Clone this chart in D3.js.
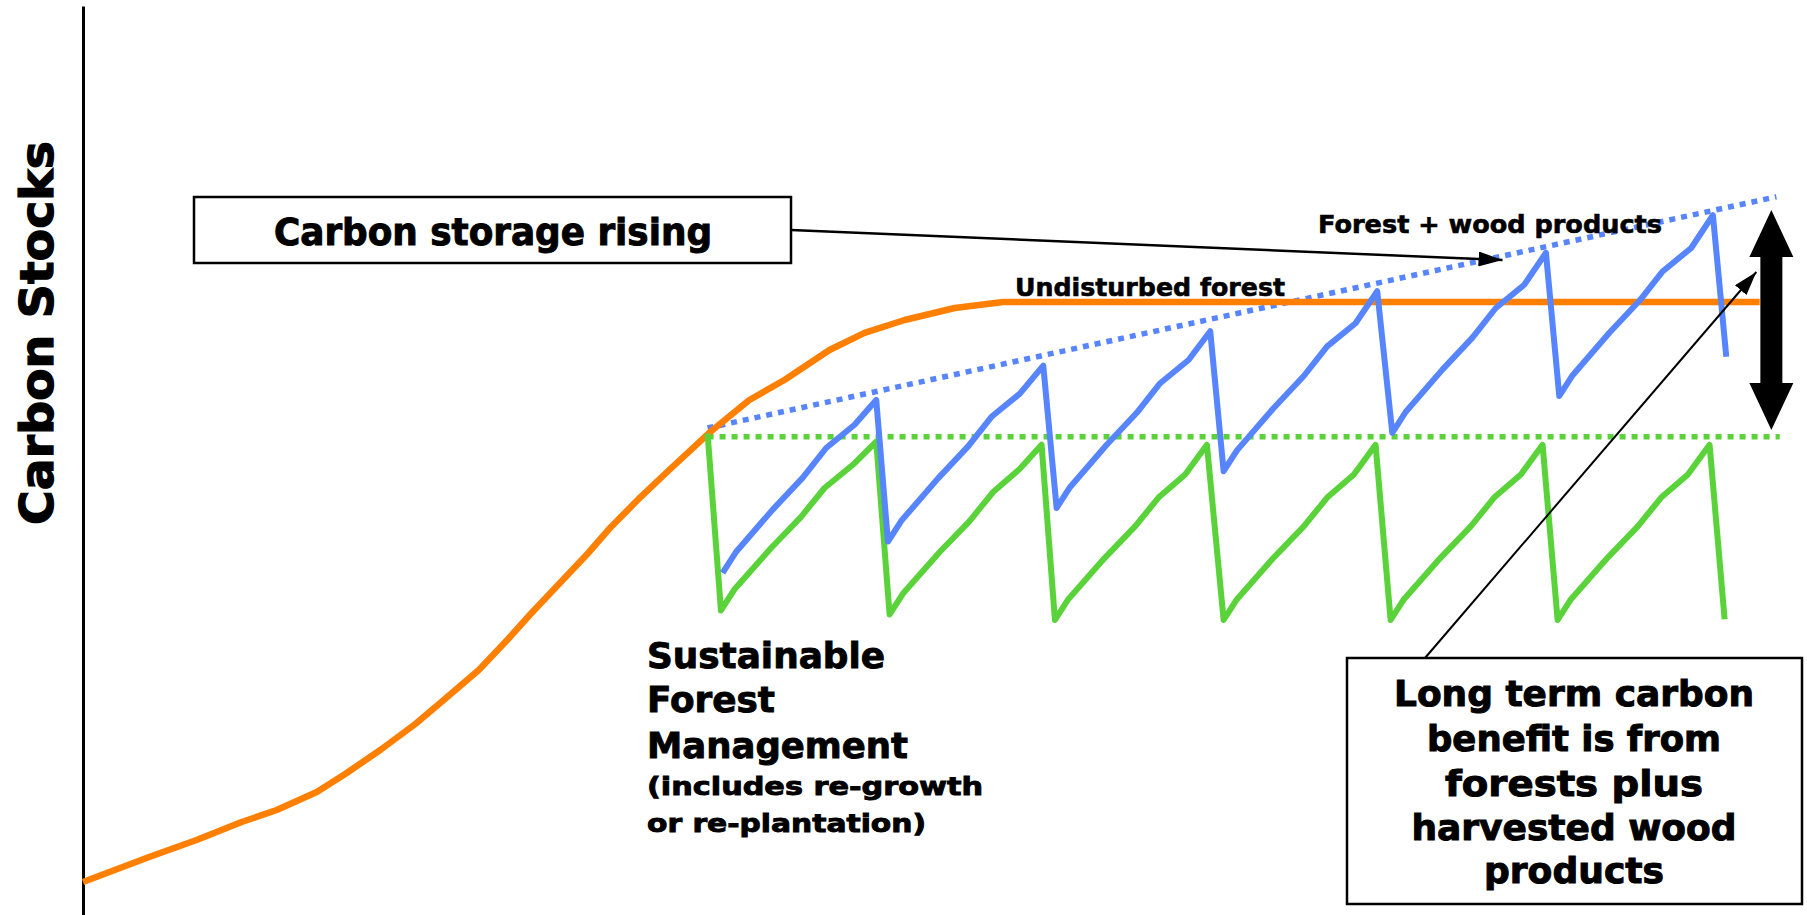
<!DOCTYPE html>
<html>
<head>
<meta charset="utf-8">
<script src="https://cdn.jsdelivr.net/npm/d3@7"></script>
<style>
  body { margin: 0; background: #fff; }
  text { font-family: "DejaVu Sans", Arial, sans-serif; font-weight: bold; fill: #000; }
</style>
</head>
<body>
<svg id="chart"></svg>
<script>
// time in years, carbon stock in arbitrary units
const undisturbedYears = [0, 1.9, 4.0, 6.8, 9.5, 11.6, 14.0, 15.7, 17.8, 19.9, 21.6, 23.7, 25.4, 26.8, 28.5, 30.2, 31.6, 33.4, 35.1, 37.5, 39.9, 42.0, 44.7, 46.8, 49.2, 52.2, 55.1, 100.4];
const undisturbedCarbon = [2.25, 3.75, 5.4, 7.5, 9.75, 11.25, 13.5, 15.75, 18.75, 22.0, 25.0, 28.75, 32.5, 35.75, 39.5, 43.25, 46.6, 50.4, 53.75, 58.4, 62.5, 65.0, 68.75, 70.9, 72.5, 74.0, 74.75, 74.75];

const forestYears = [37.4, 38.2, 39.0, 41.2, 43.0, 44.4, 46.1, 47.5,
  48.3, 49.1, 51.3, 53.1, 54.5, 56.1, 57.4,
  58.2, 59.0, 61.2, 63.0, 64.4, 66.0, 67.3,
  68.3, 69.1, 71.3, 73.1, 74.5, 76.1, 77.4,
  78.3, 79.1, 81.3, 83.1, 84.5, 86.1, 87.4,
  88.3, 89.1, 91.3, 93.1, 94.5, 96.1, 97.4, 98.3];
const forestCarbon = [58.3, 36.2, 38.8, 44.0, 47.9, 51.5, 54.4, 57.3,
  35.7, 38.3, 43.5, 47.4, 51.0, 53.9, 56.9,
  35.0, 37.6, 42.8, 46.7, 50.3, 53.2, 56.9,
  35.0, 37.6, 42.8, 46.7, 50.3, 53.2, 56.9,
  35.0, 37.6, 42.8, 46.7, 50.3, 53.2, 56.9,
  35.0, 37.6, 42.8, 46.7, 50.3, 53.2, 56.9, 35.1];

const productsYears = [38.3, 39.1, 41.3, 43.1, 44.5, 46.2, 47.5,
  48.2, 49.0, 51.2, 53.0, 54.4, 56.1, 57.5,
  58.3, 59.1, 61.3, 63.1, 64.5, 66.2, 67.5,
  68.3, 69.1, 71.3, 73.1, 74.5, 76.2, 77.5,
  78.4, 79.2, 81.4, 83.2, 84.6, 86.3, 87.6,
  88.4, 89.2, 91.4, 93.2, 94.6, 96.3, 97.6, 98.4];
const productsCarbon = [40.9, 43.5, 48.8, 52.8, 56.5, 59.4, 62.5,
  44.8, 47.4, 52.7, 56.7, 60.4, 63.3, 66.8,
  49.0, 51.6, 56.9, 60.9, 64.6, 67.5, 71.1,
  53.6, 56.2, 61.5, 65.5, 69.2, 72.1, 76.1,
  58.4, 61.0, 66.3, 70.3, 74.0, 76.9, 80.9,
  63.0, 65.6, 70.9, 74.9, 78.6, 81.5, 85.6, 67.9];

const forestBaseYears = [37.4, 101.6];
const forestBaseCarbon = [57.9, 57.9];
const productsTrendYears = [37.4, 101.4];
const productsTrendCarbon = [59.0, 87.9];

const storageArrowYears = [85.0];
const storageArrowCarbon = [80.0];
const benefitArrowYears = [100.2];
const benefitArrowCarbon = [78.5];
const gainYears = [101.1];
const gainCarbon = [58.75, 86.25];

const yAxisLabel = 'Carbon Stocks';
const storageLabel = 'Carbon storage rising';
const undisturbedLabel = 'Undisturbed forest';
const productsLabel = 'Forest + wood products';
const sfmLines = ['Sustainable', 'Forest', 'Management', '(includes re-growth', 'or re-plantation)'];
const benefitLines = ['Long term carbon', 'benefit is from', 'forests plus', 'harvested wood', 'products'];

const width = 1807;
const height = 915;

const svg = d3.select('#chart')
  .attr('width', width)
  .attr('height', height);

const x = d3.scaleLinear().domain([0, 100]).range([83, 1753]);
const y = d3.scaleLinear().domain([-1.875, 111.75]).range([915, 6]);

// y axis: just the line
const yAxis = svg.append('g')
  .attr('transform', `translate(${x(0)},0)`)
  .call(d3.axisLeft(y).ticks(0).tickSizeOuter(0));
yAxis.select('.domain').attr('stroke', '#000').attr('stroke-width', 3);

svg.append('text')
  .attr('transform', `translate(53,333) rotate(-90)`)
  .attr('text-anchor', 'middle')
  .attr('font-size', 46)
  .attr('stroke', '#000').attr('stroke-width', 1.2)
  .attr('textLength', 384).attr('lengthAdjust', 'spacingAndGlyphs')
  .text(yAxisLabel);

const line = d3.line().x(d => x(d[0])).y(d => y(d[1]));
const zipped = (a, b) => a.map((v, i) => [v, b[i]]);

// dotted reference lines
svg.append('path')
  .attr('d', line(zipped(forestBaseYears, forestBaseCarbon)))
  .attr('fill', 'none').attr('stroke', '#5ad23a').attr('stroke-width', 5.5)
  .attr('stroke-dasharray', '6,6');
svg.append('path')
  .attr('d', line(zipped(productsTrendYears, productsTrendCarbon)))
  .attr('fill', 'none').attr('stroke', '#5784ff').attr('stroke-width', 5.5)
  .attr('stroke-dasharray', '6,6');

svg.append('path')
  .attr('d', line(zipped(undisturbedYears, undisturbedCarbon)))
  .attr('fill', 'none').attr('stroke', '#ff7f00').attr('stroke-width', 6.5)
  .attr('stroke-linejoin', 'round');

svg.append('path')
  .attr('d', line(zipped(forestYears, forestCarbon)))
  .attr('fill', 'none').attr('stroke', '#5ad23a').attr('stroke-width', 6)
  .attr('stroke-linejoin', 'round');

svg.append('path')
  .attr('d', line(zipped(productsYears, productsCarbon)))
  .attr('fill', 'none').attr('stroke', '#5784ff').attr('stroke-width', 6)
  .attr('stroke-linejoin', 'round');

// arrow marker
const defs = svg.append('defs');
defs.append('marker')
  .attr('id', 'head')
  .attr('markerUnits', 'userSpaceOnUse')
  .attr('viewBox', '0 0 24 15')
  .attr('refX', 24).attr('refY', 7.5)
  .attr('markerWidth', 24).attr('markerHeight', 15)
  .attr('orient', 'auto')
  .append('path').attr('d', 'M0,0 L24,7.5 L0,15 Z').attr('fill', '#000');

// Carbon storage rising box + arrow
svg.append('rect')
  .attr('x', 194).attr('y', 197).attr('width', 597).attr('height', 66)
  .attr('fill', '#fff').attr('stroke', '#000').attr('stroke-width', 2.5);
svg.append('text')
  .attr('x', 493).attr('y', 245)
  .attr('text-anchor', 'middle').attr('font-size', 38)
  .attr('stroke', '#000').attr('stroke-width', 1)
  .attr('textLength', 438).attr('lengthAdjust', 'spacingAndGlyphs')
  .text(storageLabel);
svg.append('line')
  .attr('x1', 791).attr('y1', 230)
  .attr('x2', x(storageArrowYears[0])).attr('y2', y(storageArrowCarbon[0]))
  .attr('stroke', '#000').attr('stroke-width', 2.5)
  .attr('marker-end', 'url(#head)');

svg.append('text')
  .attr('x', 1015).attr('y', 296).attr('font-size', 25)
  .attr('stroke', '#000').attr('stroke-width', 0.6)
  .attr('textLength', 270).attr('lengthAdjust', 'spacingAndGlyphs')
  .text(undisturbedLabel);

svg.append('text')
  .attr('x', 1318).attr('y', 233).attr('font-size', 25)
  .attr('stroke', '#000').attr('stroke-width', 0.6)
  .attr('textLength', 344).attr('lengthAdjust', 'spacingAndGlyphs')
  .text(productsLabel);

// SFM label
const sfmBase = [668, 712, 758, 795, 832];
const sfmSize = [35, 35, 35, 25, 25];
const sfmLen = [238, 128, 261, 336, 279];
svg.append('g').selectAll('text')
  .data(sfmLines)
  .join('text')
  .attr('x', 647).attr('y', (d, i) => sfmBase[i])
  .attr('font-size', (d, i) => sfmSize[i])
  .attr('stroke', '#000').attr('stroke-width', 0.9)
  .attr('textLength', (d, i) => sfmLen[i]).attr('lengthAdjust', 'spacingAndGlyphs')
  .text(d => d);

// long term benefit box + arrow
svg.append('line')
  .attr('x1', 1425).attr('y1', 658)
  .attr('x2', x(benefitArrowYears[0])).attr('y2', y(benefitArrowCarbon[0]))
  .attr('stroke', '#000').attr('stroke-width', 2)
  .attr('marker-end', 'url(#head)');
svg.append('rect')
  .attr('x', 1347).attr('y', 658).attr('width', 455).attr('height', 246)
  .attr('fill', '#fff').attr('stroke', '#000').attr('stroke-width', 2.5);
const benBase = [706, 751, 796, 840, 883];
const benLen = [360, 294, 258, 325, 180];
svg.append('g').selectAll('text')
  .data(benefitLines)
  .join('text')
  .attr('x', 1574).attr('y', (d, i) => benBase[i])
  .attr('text-anchor', 'middle').attr('font-size', 36)
  .attr('stroke', '#000').attr('stroke-width', 1)
  .attr('textLength', (d, i) => benLen[i]).attr('lengthAdjust', 'spacingAndGlyphs')
  .text(d => d);

// double-headed gain arrow
const gx = x(gainYears[0]);
const gTop = y(gainCarbon[1]);
const gBot = y(gainCarbon[0]);
const headH = 47, headW = 22, shaftW = 11;
svg.append('path')
  .attr('d', `M${gx},${gTop} L${gx + headW},${gTop + headH} L${gx + shaftW},${gTop + headH}
    L${gx + shaftW},${gBot - headH} L${gx + headW},${gBot - headH} L${gx},${gBot}
    L${gx - headW},${gBot - headH} L${gx - shaftW},${gBot - headH} L${gx - shaftW},${gTop + headH}
    L${gx - headW},${gTop + headH} Z`)
  .attr('fill', '#000');
</script>
</body>
</html>
